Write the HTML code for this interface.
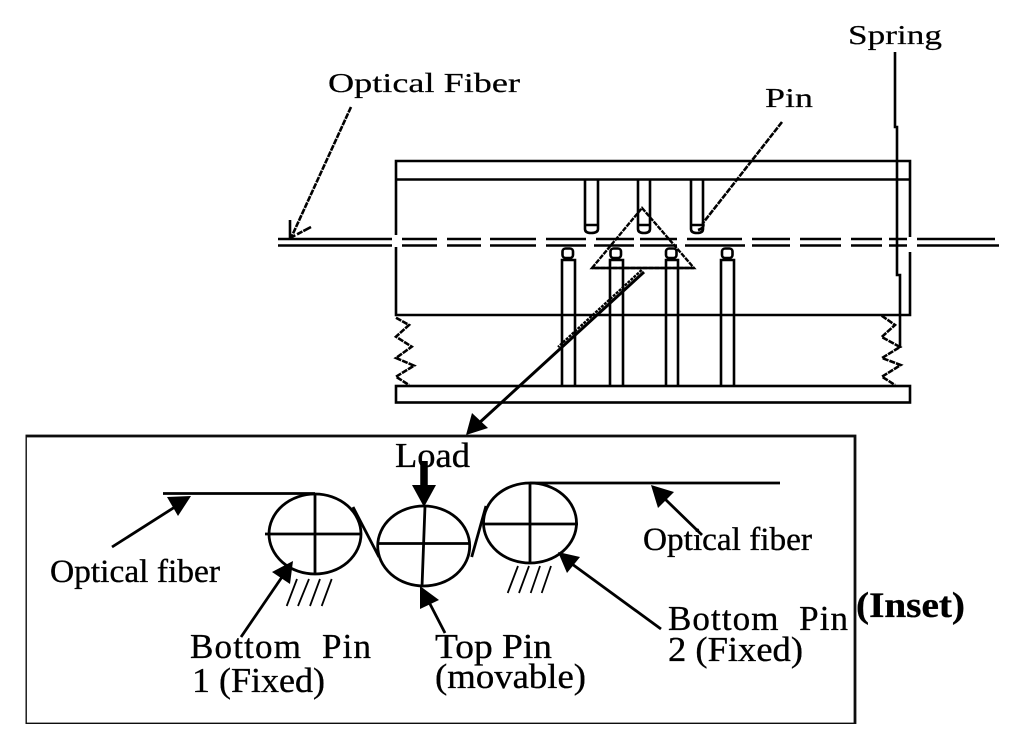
<!DOCTYPE html>
<html>
<head>
<meta charset="utf-8">
<style>
html,body{margin:0;padding:0;background:#fff;width:1024px;height:750px;overflow:hidden}
svg{display:block}
.s{font-family:"Liberation Serif",serif;fill:#000;stroke:#000;stroke-width:.35}
.m{font-family:"Liberation Serif",serif;fill:#000;stroke:#000;stroke-width:.2}
</style>
</head>
<body>
<svg width="1024" height="750" viewBox="0 0 1024 750" xmlns="http://www.w3.org/2000/svg">
<defs><filter id="b" x="0" y="0" width="100%" height="100%"><feGaussianBlur stdDeviation="0.35"/></filter></defs>
<rect width="1024" height="750" fill="#fff"/>
<g filter="url(#b)">
<!-- top apparatus -->
<g fill="none" stroke="#000" stroke-width="2.600">
<path d="M396 235V161H910V237M396 247V315H910V252M396 179.500H910"/>
<rect x="396" y="386" width="514" height="16.500"/>
<!-- fibre -->
<path d="M278 239H392M402 239H437M447 239H481M490 239H536M546 239H586M596 239H634M640 239H677M687 239H742M752 239H790M800 239H841M851 239H882M889 239H907M917 239H995"/>
<path d="M278 245.500H392M402 245.500H437M447 245.500H481M490 245.500H536M546 245.500H586M594 245.500H634M640 245.500H677M685 245.500H745M752 245.500H790M800 245.500H841M851 245.500H882M889 245.500H907M917 245.500H999"/>
<!-- top pins -->
<path d="M585 180V229Q585 233 591 233Q598 233 598 229V180M585 225H598"/>
<path d="M638 180V229Q638 233 644 233Q650 233 650 229V180M638 225H650"/>
<path d="M691 180V229Q691 233 697 233Q703 233 703 229V180M691 225H703"/>
<!-- bottom pins -->
<path d="M562 386V260H575V386"/>
<path d="M610 386V260H623V386"/>
<path d="M666 386V260H678V386"/>
<path d="M721 386V260H734V386"/>
<rect x="562.500" y="248.500" width="10.500" height="9.500" rx="3"/>
<rect x="610.500" y="248.500" width="10.500" height="9.500" rx="3"/>
<rect x="666" y="248.500" width="10.500" height="9.500" rx="3"/>
<rect x="722" y="248.500" width="10.500" height="9.500" rx="3"/>
</g>
<!-- triangle -->
<path d="M592 268L642 208L694 268Z" fill="none" stroke="#000" stroke-width="2.400" stroke-dasharray="5 1"/>
<path d="M592 268H694" stroke="#000" stroke-width="2.400"/>
<!-- springs -->
<g fill="none" stroke="#000" stroke-width="2.600" stroke-dasharray="6 1">
<path d="M396 317.700L409 325L396 336.700L411.700 346.700L396 358L414 365.700L396 376.700L409 385"/>
<path d="M881.700 315.700L895 325L881.700 337L900 347L882 358L900.700 365L882 376.700L895 385"/>
</g>
<!-- leaders -->
<path d="M351 107L291 238" fill="none" stroke="#000" stroke-width="2.600" stroke-dasharray="6 1"/>
<path d="M290 220V238L311 227" fill="none" stroke="#000" stroke-width="2.600" stroke-dasharray="24 2 6 1"/>
<path d="M782 122L703 223Q705 228 698 230" fill="none" stroke="#000" stroke-width="2.600" stroke-dasharray="6 1"/>
<path d="M895 52V127H897V275H900V348" fill="none" stroke="#000" stroke-width="2.600"/>
<!-- main arrow -->
<path d="M641.700 270L558 347" fill="none" stroke="#000" stroke-width="2.400" stroke-dasharray="3 1"/>
<path d="M644 272L478 424" fill="none" stroke="#000" stroke-width="3"/>
<path d="M466 435L472 413L488 428Z" fill="#000"/>
<!-- inset box -->
<rect x="25.500" y="436" width="829.500" height="288" fill="none" stroke="#111" stroke-width="2.800"/>
<g fill="none" stroke="#000" stroke-width="2.800">
<ellipse cx="315" cy="534" rx="46" ry="40"/>
<ellipse cx="423.700" cy="546" rx="46" ry="40"/>
<ellipse cx="530" cy="523" rx="46.500" ry="40"/>
<path d="M163 493.500H315M265 534H361M315 493V574"/>
<path d="M378 543.500H470M425 506L422 587"/>
<path d="M530 483H780M483 524H578M530 483V563"/>
<path d="M353 507L379 557"/>
<path d="M471.700 557L486 506"/>
</g>
<g fill="none" stroke="#000" stroke-width="1.800">
<path d="M286.700 606L297 579M298 606L309 579M310 606L320 579M321.700 606L331.700 579"/>
<path d="M507.700 593L518 566M519 593L529 566M530.700 593L540 566M541.700 593L551 566"/>
</g>
<!-- inset arrows -->
<path d="M424 461V488" stroke="#000" stroke-width="7.500" fill="none"/>
<path d="M412 485H436L424 507Z" fill="#000"/>
<g stroke="#000" stroke-width="2.800" fill="none">
<path d="M112 547L178 505"/>
<path d="M241 637L282 577"/>
<path d="M445 633L430 604"/>
<path d="M702 535L665 499"/>
<path d="M661 629L572 564"/>
</g>
<g fill="#000">
<path d="M191 496L167 497L178 516Z"/>
<path d="M293 561L272 572L290 584Z"/>
<path d="M420 586L420 609L439 600Z"/>
<path d="M651 485L658 508L674 492Z"/>
<path d="M558 552L567 573L580 557Z"/>
</g>
<!-- bitmap-style labels -->
<text class="m" x="328" y="92" font-size="27" textLength="192" lengthAdjust="spacingAndGlyphs">Optical Fiber</text>
<text class="m" x="765" y="107" font-size="27" textLength="48" lengthAdjust="spacingAndGlyphs">Pin</text>
<text class="m" x="848" y="44" font-size="27" textLength="94" lengthAdjust="spacingAndGlyphs">Spring</text>
<!-- serif labels -->
<text class="s" x="395" y="467" font-size="35" textLength="75" lengthAdjust="spacingAndGlyphs">Load</text>
<text class="s" x="50" y="582" font-size="33" textLength="170" lengthAdjust="spacingAndGlyphs">Optical fiber</text>
<text class="s" x="643" y="550" font-size="33" textLength="169" lengthAdjust="spacingAndGlyphs">Optical fiber</text>
<text class="s" x="190" y="658" font-size="35" textLength="181" xml:space="preserve" lengthAdjust="spacing">Bottom  Pin</text>
<text class="s" x="192" y="692" font-size="35" textLength="133" lengthAdjust="spacingAndGlyphs">1 (Fixed)</text>
<text class="s" x="435" y="658" font-size="35" textLength="117" lengthAdjust="spacingAndGlyphs">Top Pin</text>
<text class="s" x="435" y="688" font-size="35" textLength="151" lengthAdjust="spacingAndGlyphs">(movable)</text>
<text class="s" x="668" y="630" font-size="35" textLength="180" xml:space="preserve" lengthAdjust="spacing">Bottom  Pin</text>
<text class="s" x="668" y="661" font-size="35" textLength="135" lengthAdjust="spacingAndGlyphs">2 (Fixed)</text>
<text class="s" x="856" y="617" font-size="36" font-weight="bold" textLength="109" lengthAdjust="spacingAndGlyphs">(Inset)</text>
</g>
</svg>
</body>
</html>
